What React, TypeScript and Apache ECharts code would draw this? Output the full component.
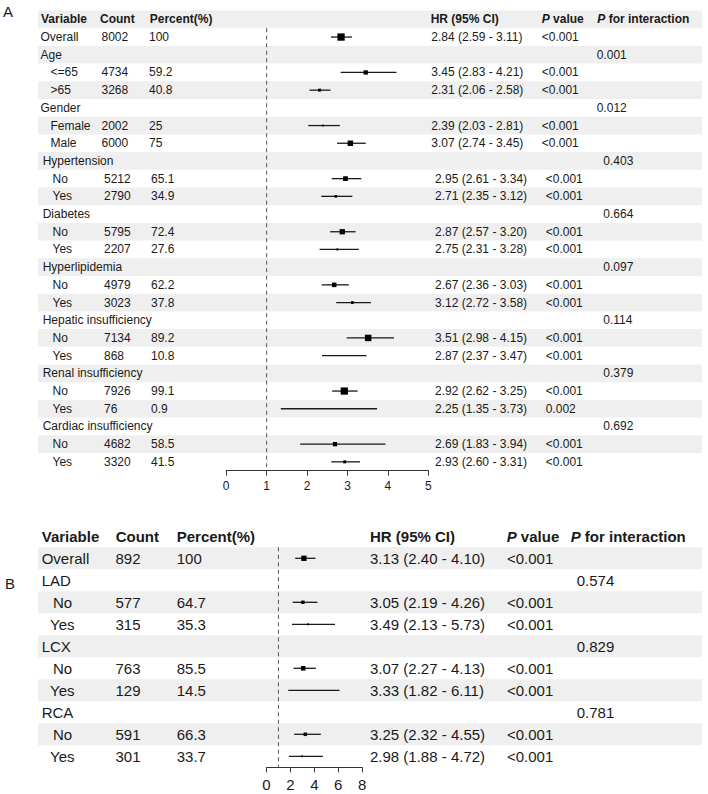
import React, { useEffect, useRef } from 'react';
import * as echarts from 'echarts';

// ---------- Panel A: whole cohort subgroups ----------
const labelsA = [
  'Overall', 'Age', '<=65', '>65', 'Gender', 'Female', 'Male',
  'Hypertension', 'No', 'Yes', 'Diabetes', 'No', 'Yes',
  'Hyperlipidemia', 'No', 'Yes', 'Hepatic insufficiency', 'No', 'Yes',
  'Renal insufficiency', 'No', 'Yes', 'Cardiac insufficiency', 'No', 'Yes',
];
const countsA = ['8002', '', '4734', '3268', '', '2002', '6000', '', '5212', '2790', '', '5795', '2207', '', '4979', '3023', '', '7134', '868', '', '7926', '76', '', '4682', '3320'];
const percentA: (number | null)[] = [100, null, 59.2, 40.8, null, 25, 75, null, 65.1, 34.9, null, 72.4, 27.6, null, 62.2, 37.8, null, 89.2, 10.8, null, 99.1, 0.9, null, 58.5, 41.5];
const hrA: (number | null)[] = [2.84, null, 3.45, 2.31, null, 2.39, 3.07, null, 2.95, 2.71, null, 2.87, 2.75, null, 2.67, 3.12, null, 3.51, 2.87, null, 2.92, 2.25, null, 2.69, 2.93];
const loA: (number | null)[] = [2.59, null, 2.83, 2.06, null, 2.03, 2.74, null, 2.61, 2.35, null, 2.57, 2.31, null, 2.36, 2.72, null, 2.98, 2.37, null, 2.62, 1.35, null, 1.83, 2.60];
const hiA: (number | null)[] = [3.11, null, 4.21, 2.58, null, 2.81, 3.45, null, 3.34, 3.12, null, 3.20, 3.28, null, 3.03, 3.58, null, 4.15, 3.47, null, 3.25, 3.73, null, 3.94, 3.31];
const pA = ['<0.001', '', '<0.001', '<0.001', '', '<0.001', '<0.001', '', '<0.001', '<0.001', '', '<0.001', '<0.001', '', '<0.001', '<0.001', '', '<0.001', '<0.001', '', '<0.001', '0.002', '', '<0.001', '<0.001'];
const pIntA = ['', '0.001', '', '', '0.012', '', '', '0.403', '', '', '0.664', '', '', '0.097', '', '', '0.114', '', '', '0.379', '', '', '0.692', '', ''];
const ticksA = [0, 1, 2, 3, 4, 5];

// ---------- Panel B: coronary artery subgroups ----------
const labelsB = ['Overall', 'LAD', 'No', 'Yes', 'LCX', 'No', 'Yes', 'RCA', 'No', 'Yes'];
const countsB = ['892', '', '577', '315', '', '763', '129', '', '591', '301'];
const percentB: (number | null)[] = [100, null, 64.7, 35.3, null, 85.5, 14.5, null, 66.3, 33.7];
const hrB: (number | null)[] = [3.13, null, 3.05, 3.49, null, 3.07, 3.33, null, 3.25, 2.98];
const loB: (number | null)[] = [2.40, null, 2.19, 2.13, null, 2.27, 1.82, null, 2.32, 1.88];
const hiB: (number | null)[] = [4.10, null, 4.26, 5.73, null, 4.13, 6.11, null, 4.55, 4.72];
const pB = ['<0.001', '', '<0.001', '<0.001', '', '<0.001', '<0.001', '', '<0.001', '<0.001'];
const pIntB = ['', '0.574', '', '', '0.829', '', '', '0.781', '', ''];
const ticksB = [0, 2, 4, 6, 8];

const headers = ['Variable', 'Count', 'Percent(%)', 'HR (95% CI)', 'P value', 'P for interaction'];

const FONT = '"Liberation Sans", Arial, Helvetica, sans-serif';
const INK = '#1a1a1a';
const STRIPE = '#efefef';

type Cols = { group: number; sub: (label: string) => number; count: number; percent: number; hr: number; p: number; pint: number };

type PanelDef = {
  labels: string[]; counts: string[]; percent: (number | null)[];
  hr: (number | null)[]; lo: (number | null)[]; hi: (number | null)[];
  p: string[]; pint: string[]; ticks: number[];
  fontSize: number;
  grid: { left: number; top: number; width: number; rowH: number };
  headerX: number[];
  cols: (i: number) => Cols;
  stripeHeader: boolean;
  boxScale: number;
  labelMargin: number;
};

const fmt = (v: number) => v.toFixed(2);

function txt(x: number, y: number, text: string, size: number, extra: Record<string, unknown> = {}) {
  return {
    type: 'text', x, y,
    style: { text, fill: INK, fontSize: size, fontFamily: FONT, align: 'left', verticalAlign: 'middle', ...extra },
  };
}

function buildPanel(d: PanelDef, gi: number) {
  const n = d.labels.length;
  const grid = { left: d.grid.left, top: d.grid.top, width: d.grid.width, height: d.grid.rowH * (n + 1) };
  const xAxis = {
    gridIndex: gi, type: 'value', position: 'bottom', min: d.ticks[0], max: d.ticks[d.ticks.length - 1],
    interval: d.ticks[1] - d.ticks[0],
    axisLine: { show: true, onZero: false, lineStyle: { color: '#333', width: 1 } },
    axisTick: { show: true, length: 5, lineStyle: { color: '#333', width: 1 } },
    axisLabel: { color: INK, fontSize: d.fontSize, fontFamily: FONT, margin: d.labelMargin },
    splitLine: { show: false },
  };
  const yAxis = { gridIndex: gi, type: 'value', min: -0.5, max: n + 0.5, inverse: true, show: false };

  const rowIdx = Array.from({ length: n + 1 }, (_, k) => [0, k]);

  const bands = {
    type: 'custom', xAxisIndex: gi, yAxisIndex: gi, z: 0, silent: true, clip: false,
    data: rowIdx,
    renderItem: (_p: unknown, api: any) => {
      const k = api.value(1) as number;
      const grey = d.stripeHeader ? k % 2 === 0 : k % 2 === 1;
      if (!grey) return { type: 'group', children: [] };
      const yTop = api.coord([0, k - 0.5])[1];
      const yBot = api.coord([0, k + 0.5])[1];
      return { type: 'rect', shape: { x: 38, y: yTop, width: 664, height: yBot - yTop }, style: { fill: STRIPE } };
    },
  };

  const table = {
    type: 'custom', xAxisIndex: gi, yAxisIndex: gi, z: 3, silent: true, clip: false,
    data: rowIdx,
    renderItem: (_p: unknown, api: any) => {
      const k = api.value(1) as number;
      const cy = api.coord([0, k])[1];
      const fs = d.fontSize;
      const children: any[] = [];
      if (k === 0) {
        const hx = d.headerX;
        headers.forEach((h, j) => {
          if (h.startsWith('P ')) {
            children.push({
              type: 'text', x: hx[j], y: cy,
              style: {
                text: '{i|P}{b|' + h.slice(1) + '}', fill: INK, fontSize: fs, fontFamily: FONT, fontWeight: 'bold',
                align: 'left', verticalAlign: 'middle',
                rich: {
                  i: { fontStyle: 'italic', fontWeight: 'bold', fontSize: fs, fontFamily: FONT, fill: INK },
                  b: { fontWeight: 'bold', fontSize: fs, fontFamily: FONT, fill: INK },
                },
              },
            });
          } else {
            children.push(txt(hx[j], cy, h, fs, { fontWeight: 'bold' }));
          }
        });
        return { type: 'group', children };
      }
      const i = k - 1;
      const c = d.cols(i);
      const label = d.labels[i];
      const isSub = d.hr[i] != null && label !== 'Overall';
      children.push(txt(isSub ? c.sub(label) : c.group, cy, label, fs));
      if (d.counts[i]) children.push(txt(c.count, cy, d.counts[i], fs));
      if (d.percent[i] != null) children.push(txt(c.percent, cy, String(d.percent[i]), fs));
      if (d.hr[i] != null) {
        children.push(txt(c.hr, cy, `${fmt(d.hr[i] as number)} (${fmt(d.lo[i] as number)} - ${fmt(d.hi[i] as number)})`, fs));
      }
      if (d.p[i]) children.push(txt(c.p, cy, d.p[i], fs));
      if (d.pint[i]) children.push(txt(c.pint, cy, d.pint[i], fs));
      return { type: 'group', children };
    },
  };

  const refLine = {
    type: 'custom', xAxisIndex: gi, yAxisIndex: gi, z: 2, silent: true, clip: false,
    data: [[1, 0]],
    renderItem: (_p: unknown, api: any) => {
      const [x, y1] = api.coord([api.value(0), 0.5]);
      const y2 = api.coord([api.value(0), n + 0.5])[1];
      return {
        type: 'line', shape: { x1: x, y1, x2: x, y2 },
        style: { stroke: '#555', lineWidth: 1, lineDash: [4, 3.5] },
      };
    },
  };

  const ciData: number[][] = [];
  d.hr.forEach((h, i) => {
    if (h != null) ciData.push([h, i + 1, d.lo[i] as number, d.hi[i] as number, d.percent[i] as number]);
  });
  const ci = {
    type: 'custom', xAxisIndex: gi, yAxisIndex: gi, z: 4, silent: true, clip: false,
    data: ciData,
    encode: { x: [0, 2, 3], y: 1 },
    renderItem: (_p: unknown, api: any) => {
      const row = api.value(1);
      const [xc, cy] = api.coord([api.value(0), row]);
      const xl = api.coord([api.value(2), row])[0];
      const xh = api.coord([api.value(3), row])[0];
      const s = (api.value(4) as number) * d.boxScale;
      return {
        type: 'group',
        children: [
          { type: 'line', shape: { x1: xl, y1: cy, x2: xh, y2: cy }, style: { stroke: INK, lineWidth: 1.3 } },
          { type: 'rect', shape: { x: xc - s / 2, y: cy - s / 2, width: s, height: s }, style: { fill: '#000' } },
        ],
      };
    },
  };

  return { grid, xAxis, yAxis, series: [bands, refLine, table, ci] };
}

const colsA = (i: number): Cols => (i < 7
  ? { group: 40.5, sub: () => 50.5, count: 101.5, percent: 149, hr: 431.3, p: 541.7, pint: 596.7 }
  : { group: 42.7, sub: () => 52.5, count: 104, percent: 151, hr: 435, p: 545.7, pint: 603.3 });

const colsB = (): Cols => ({
  group: 41.7, sub: (l: string) => (l === 'No' ? 53 : 50), count: 115.5, percent: 176.7, hr: 370, p: 507, pint: 576.7,
});

const panelA: PanelDef = {
  labels: labelsA, counts: countsA, percent: percentA, hr: hrA, lo: loA, hi: hiA, p: pA, pint: pIntA, ticks: ticksA,
  fontSize: 12,
  grid: { left: 226.2, top: 10.5, width: 202.2, rowH: 17.7 },
  headerX: [41, 100, 149.7, 430.7, 541.7, 597.3],
  cols: colsA, stripeHeader: true, boxScale: 0.073, labelMargin: 9,
};

const panelB: PanelDef = {
  labels: labelsB, counts: countsB, percent: percentB, hr: hrB, lo: loB, hi: hiB, p: pB, pint: pIntB, ticks: ticksB,
  fontSize: 15,
  grid: { left: 266.5, top: 525.3, width: 95.6, rowH: 22 },
  headerX: [41.7, 115.7, 176.7, 370, 506.7, 570.7],
  cols: colsB, stripeHeader: false, boxScale: 0.053, labelMargin: 10,
};

export default function App() {
  const ref = useRef<HTMLDivElement>(null);
  useEffect(() => {
    document.body.style.margin = '0';
    if (!ref.current) return;
    const chart = echarts.init(ref.current, undefined, { renderer: 'svg' });
    const a = buildPanel(panelA, 0);
    const b = buildPanel(panelB, 1);
    chart.setOption({
      animation: false,
      backgroundColor: '#fff',
      grid: [a.grid, b.grid],
      xAxis: [a.xAxis, b.xAxis],
      yAxis: [a.yAxis, b.yAxis],
      series: [...a.series, ...b.series],
      graphic: [
        { type: 'text', left: 3, top: 4, style: { text: 'A', fill: INK, fontSize: 15, fontFamily: FONT } },
        { type: 'text', left: 5, top: 576, style: { text: 'B', fill: INK, fontSize: 15, fontFamily: FONT } },
      ],
    });
    return () => chart.dispose();
  }, []);
  return <div ref={ref} style={{ position: 'absolute', left: 0, top: 0, width: 708, height: 794 }} />;
}
